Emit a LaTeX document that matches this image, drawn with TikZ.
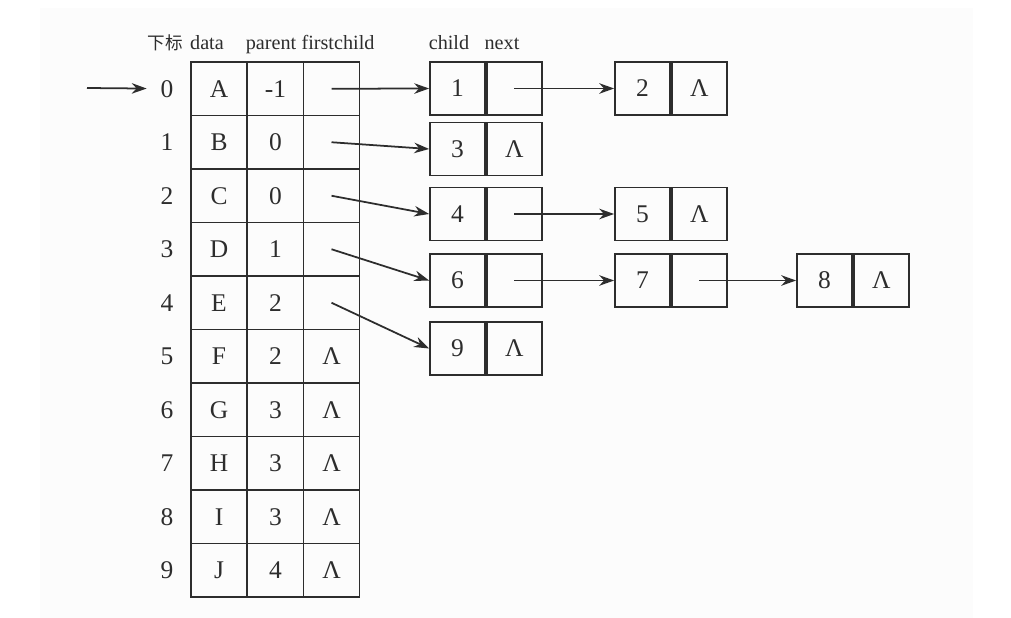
\documentclass[tikz,border=0pt]{standalone}
\usepackage{fontspec}
\setmainfont{Liberation Serif}
\newfontfamily\cjk{Noto Sans CJK SC}
\usetikzlibrary{arrows.meta}
\definecolor{inkgray}{RGB}{45,45,45}
\definecolor{paper}{RGB}{252,252,252}

\begin{document}
\begin{tikzpicture}[x=0.02cm, y=-0.02cm, >={Stealth[length=8.5pt,width=6pt]},
  cell/.style={draw=inkgray, line width=1pt, minimum width=1.12cm,
    minimum height=1.07cm, inner sep=0pt, text=inkgray,
    font=\fontsize{14.5}{16}\selectfont},
  half/.style={cell, minimum width=1.1cm, minimum height=1.06cm},
  idx/.style={minimum width=0.8cm, inner sep=0pt, text=inkgray,
    font=\fontsize{14.5}{16}\selectfont},
  head/.style={anchor=base, inner sep=0pt, text=inkgray,
    font=\fontsize{11.5}{13}\selectfont},
  link/.style={->, draw=inkgray, line width=1pt}]
  \useasboundingbox (0,0) rectangle (1011,618);
  \fill[paper] (40,8) rectangle (973,618);

  % --- 表头 ---
  \node[head, font=\cjk\fontsize{10}{12}\selectfont] (hidx) at (165.5,50) {下标};
  \node[head] (hdata) at (207,50) {data};
  \node[head] (hparent) at (271,50) {parent};
  \node[head] (hfirst) at (338,50) {firstchild};
  \node[head] (hchild) at (449,50) {child};
  \node[head] (hnext) at (502,50) {next};

  % --- 结点数组 ---
  \foreach \i/\d/\p/\f in {0/A/-1/{},1/B/0/{},2/C/0/{},3/D/1/{},4/E/2/{},
      5/F/2/Λ,6/G/3/Λ,7/H/3/Λ,8/I/3/Λ,9/J/4/Λ} {
    \node[idx] (i\i) at (167,88.75+53.5*\i) {\i};
    \node[cell] (d\i) at (219,88.75+53.5*\i) {\d};
    \node[cell] (p\i) at (275.5,88.75+53.5*\i) {\p};
    \node[cell] (f\i) at (331.5,88.75+53.5*\i) {\f};
  }
  \coordinate (entry) at (87,88);
  \draw[link] (entry) -- (i0);

  % --- 孩子链表 ---
  \foreach \k/\x/\y/\t in {1/457.5/88.5/{},2/642.5/88.5/Λ,3/457.5/149/Λ,
      4/457.5/214/{},5/642.5/214/Λ,6/457.5/280.5/{},7/642.5/280.5/{},
      8/824.5/280.5/Λ,9/457.5/348.5/Λ} {
    \node[half] (c\k) at (\x,\y) {\k};
    \node[half, anchor=west] (n\k) at (c\k.east) {\t};
  }

  % --- firstchild 指针 ---
  \draw[link] (f0.center) -- (c1.west);
  \draw[link] (f1.center) -- (c3.west);
  \draw[link] (f2.center) -- (c4.west);
  \draw[link] (f3.center) -- (c6.west);
  \draw[link] (f4.center) -- (c9.west);
  % --- next 指针 ---
  \draw[link] (n1.center) -- (c2.west);
  \draw[link] (n4.center) -- (c5.west);
  \draw[link] (n6.center) -- (c7.west);
  \draw[link] (n7.center) -- (c8.west);
\end{tikzpicture}
\end{document}
